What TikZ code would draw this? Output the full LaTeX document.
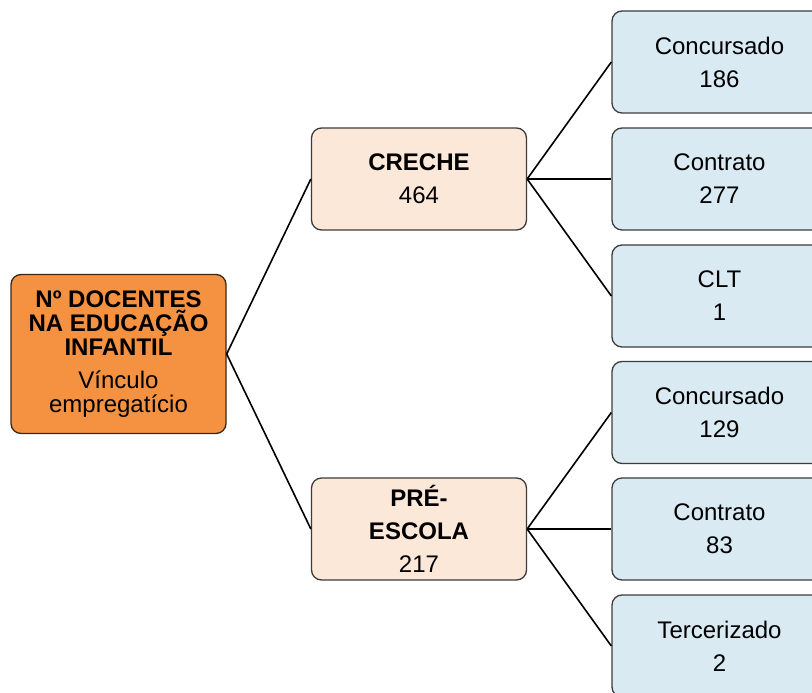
\documentclass[tikz,border=0pt]{standalone}
\usepackage{fontspec}
\setmainfont{Liberation Sans}
\definecolor{rootfill}{RGB}{244,146,66}
\definecolor{rootdraw}{RGB}{60,40,25}
\definecolor{midfill}{RGB}{252,232,216}
\definecolor{leaffill}{RGB}{217,234,243}
\definecolor{boxdraw}{RGB}{60,60,60}
\tikzset{
  basebox/.style={rounded corners=10pt, line width=1.3pt, draw=boxdraw, align=center,
    minimum width=215pt, minimum height=102pt, inner sep=0pt,
    font=\fontsize{24}{33}\selectfont},
  rootbox/.style={basebox, fill=rootfill, draw=rootdraw, minimum height=159pt,
    font=\fontsize{24}{24}\selectfont},
  midbox/.style={basebox, fill=midfill},
  leafbox/.style={basebox, fill=leaffill},
  link/.style={line width=1.6pt, draw=black}
}
\begin{document}
\begin{tikzpicture}[x=1pt,y=-1pt]
\clip (0,0) rectangle (812,693);
\fill[white] (0,0) rectangle (812,693);
\node[rootbox] (root) at (118.5,354) {\textbf{Nº DOCENTES}\\\textbf{NA EDUCAÇÃO}\\\textbf{INFANTIL}\\[9pt]Vínculo\\empregatício};
\node[midbox] (creche) at (419,179) {\textbf{CRECHE}\\464};
\node[midbox] (pre) at (419,529) {\textbf{PRÉ-}\\\textbf{ESCOLA}\\217};
\node[leafbox] (l1) at (719.5,62) {Concursado\\186};
\node[leafbox] (l2) at (719.5,179) {Contrato\\277};
\node[leafbox] (l3) at (719.5,296) {CLT\\1};
\node[leafbox] (l4) at (719.5,412.5) {Concursado\\129};
\node[leafbox] (l5) at (719.5,529) {Contrato\\83};
\node[leafbox] (l6) at (719.5,646) {Tercerizado\\2};
\draw[link] (root.east) -- (creche.west);
\draw[link] (root.east) -- (pre.west);
\draw[link] (creche.east) -- (l1.west);
\draw[link] (creche.east) -- (l2.west);
\draw[link] (creche.east) -- (l3.west);
\draw[link] (pre.east) -- (l4.west);
\draw[link] (pre.east) -- (l5.west);
\draw[link] (pre.east) -- (l6.west);
\end{tikzpicture}
\end{document}
